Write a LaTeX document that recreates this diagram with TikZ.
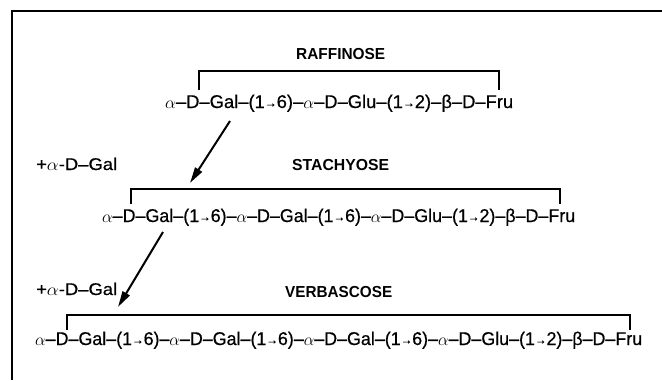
\documentclass[tikz,border=0pt]{standalone}
\usepackage{fontspec}
\usepackage{graphicx}
\setmainfont{Liberation Sans}
\newfontfamily\chainfont[FakeBold=0.6]{Liberation Sans}
\usetikzlibrary{arrows.meta}
\newcommand\myarr{{\fontsize{12}{12}\selectfont\raisebox{0.08em}{→}}}
\newcommand\chainR{$\alpha$–D–Gal–(1\myarr6)–$\alpha$–D–Glu–(1\myarr2)–β–D–Fru}
\newcommand\chainS{$\alpha$–D–Gal–(1\myarr6)–$\alpha$–D–Gal–(1\myarr6)–$\alpha$–D–Glu–(1\myarr2)–β–D–Fru}
\newcommand\chainV{$\alpha$–D–Gal–(1\myarr6)–$\alpha$–D–Gal–(1\myarr6)–$\alpha$–D–Gal–(1\myarr6)–$\alpha$–D–Glu–(1\myarr2)–β–D–Fru}
\begin{document}
\begin{tikzpicture}[x=1bp,y=-1bp,
  chain/.style={anchor=base west,inner sep=0pt,font=\chainfont\fontsize{18.5}{18.5}\selectfont},
  title/.style={anchor=base west,inner sep=0pt,font=\fontsize{16}{16}\selectfont\bfseries},
  addlab/.style={anchor=base west,inner sep=0pt,font=\chainfont\fontsize{17}{17}\selectfont},
  bracket/.style={line width=2.2pt},
  react/.style={line width=2pt,-{Triangle[length=16bp,width=8bp]}}]
\useasboundingbox (0,0) rectangle (662,380);
\draw[line width=2.2pt] (12,380) -- (12,11) -- (662,11);
% Raffinose
\node[title] (tR) at (296,59) {\resizebox{89bp}{\height}{RAFFINOSE}};
\node[chain] (cR) at (165,108) {\resizebox{348bp}{\height}{\chainR}};
\draw[bracket] (199,90) -- (199,71) -- (499,71) -- (499,90);
% Stachyose
\node[addlab] (a1) at (36,170) {\resizebox{81bp}{\height}{+$\alpha$-D–Gal}};
\node[title] (tS) at (292,170) {\resizebox{97bp}{\height}{STACHYOSE}};
\node[chain] (cS) at (102,222) {\resizebox{473bp}{\height}{\chainS}};
\draw[bracket] (131,204) -- (131,189) -- (560,189) -- (560,204);
% Verbascose
\node[addlab] (a2) at (36,295) {\resizebox{81bp}{\height}{+$\alpha$-D–Gal}};
\node[title] (tV) at (285,297) {\resizebox{107bp}{\height}{VERBASCOSE}};
\node[chain] (cV) at (35,345) {\resizebox{607bp}{\height}{\chainV}};
\draw[bracket] (67,330) -- (67,315) -- (630,315) -- (630,330);
% arrows
\coordinate (s1) at (230,121);
\coordinate (e1) at (190,183);
\coordinate (s2) at (163,232);
\coordinate (e2) at (118,307);
\draw[react] (s1) -- (e1);
\draw[react] (s2) -- (e2);
\end{tikzpicture}
\end{document}
